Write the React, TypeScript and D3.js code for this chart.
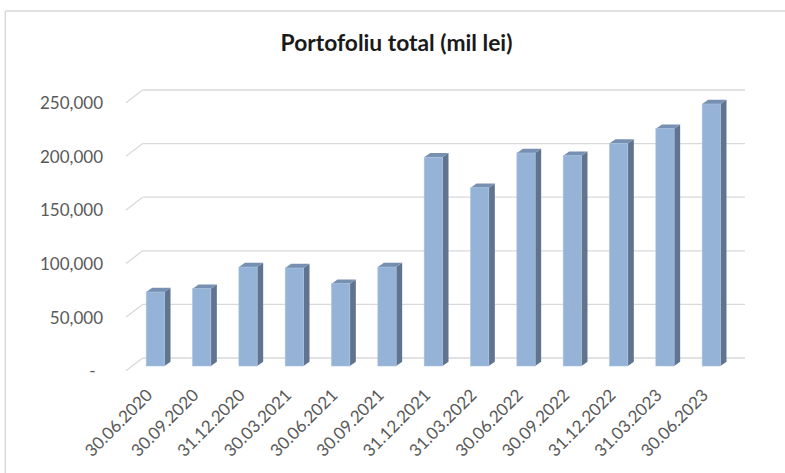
import React from "react";
import * as d3 from "d3";

const categories = [
  "30.06.2020", "30.09.2020", "31.12.2020", "30.03.2021", "30.06.2021", "30.09.2021",
  "31.12.2021", "31.03.2022", "30.06.2022", "30.09.2022", "31.12.2022", "31.03.2023", "30.06.2023",
];
const values = [
  69000, 72100, 92300, 91400, 76800, 92300,
  194700, 166300, 198700, 196200, 207700, 221400, 244400,
];
const yTicks = [0, 50000, 100000, 150000, 200000, 250000];
const title = "Portofoliu total (mil lei)";

const W = 785;
const H = 473;
// front plane of the 3-D plot
const FX0 = 126;
const FX1 = 728.3;
const FY0 = 370.7;
const FYTOP = 102.7;
// back wall offset
const BDX = 16.7;
const BDY = -12.7;
// bar placement inside the floor depth
const BARDX = 6.2;
const BARDY = -4.7;
// bar thickness
const DX = 6;
const DY = -4.2;

const FONT = "Lato, 'Open Sans', sans-serif";

export default function App() {
  const x = d3
    .scaleBand<string>()
    .domain(categories)
    .range([FX0, FX1])
    .paddingInner(0.605)
    .paddingOuter(0.3025);
  const y = d3.scaleLinear().domain([0, 250000]).range([FY0, FYTOP]);
  const fmt = d3.format(",");

  return (
    <svg
      width={W}
      height={H}
      style={{ position: "absolute", left: 0, top: 0, background: "#fff" }}
      fontFamily={FONT}
    >
      <rect x={0} y={0} width={W} height={H} fill="#fff" />
      {/* outer chart border (cropped) */}
      <line x1={5.3} y1={11} x2={W} y2={11} stroke="#D9D9D9" strokeWidth={1.5} />
      <line x1={5.3} y1={11} x2={5.3} y2={H} stroke="#D9D9D9" strokeWidth={1.5} />

      <text x={396.5} y={50.7} textAnchor="middle" fontWeight="bold" fontSize={22.8} fill="#1a1a1a">
        {title}
      </text>

      {/* gridlines */}
      {yTicks.map((t) => (
        <g key={t}>
          <line
            x1={FX0}
            y1={y(t)}
            x2={FX0 + BDX}
            y2={y(t) + BDY}
            stroke="#D9D9D9"
            strokeWidth={1.3}
          />
          <line
            x1={FX0 + BDX}
            y1={y(t) + BDY}
            x2={FX1 + BDX}
            y2={y(t) + BDY}
            stroke="#D9D9D9"
            strokeWidth={1.3}
          />
        </g>
      ))}

      {/* y labels */}
      {yTicks.map((t) => (
        <text
          key={"l" + t}
          x={t === 0 ? 95.5 : 103}
          y={y(t) + 0.5}
          dy="0.35em"
          textAnchor="end"
          fontSize={17}
          fill="#595959"
        >
          {t === 0 ? "-" : fmt(t)}
        </text>
      ))}

      {/* bars */}
      {categories.map((c, i) => {
        const x0 = (x(c) as number) + BARDX;
        const bw = x.bandwidth();
        const x1 = x0 + bw;
        const yb = y(0) + BARDY;
        const yt = y(values[i]) + BARDY;
        const top = `M${x0},${yt} L${x0 + DX},${yt + DY} L${x1 + DX},${yt + DY} L${x1},${yt} Z`;
        const side = `M${x1},${yt} L${x1 + DX},${yt + DY} L${x1 + DX},${yb + DY} L${x1},${yb} Z`;
        return (
          <g key={c}>
            <path d={side} fill="#60738F" />
            <path d={top} fill="#7790B2" />
            <rect x={x0} y={yt} width={bw} height={yb - yt} fill="#95B3D7" stroke="#A9C2E0" strokeWidth={0.6} />
          </g>
        );
      })}

      {/* x labels */}
      {categories.map((c) => {
        const cx = (x(c) as number) + x.bandwidth() / 2;
        return (
          <text
            key={"x" + c}
            transform={`translate(${cx},${392}) rotate(-45)`}
            textAnchor="end"
            dy="0.35em"
            fontSize={17}
            fill="#595959"
          >
            {c}
          </text>
        );
      })}
    </svg>
  );
}
